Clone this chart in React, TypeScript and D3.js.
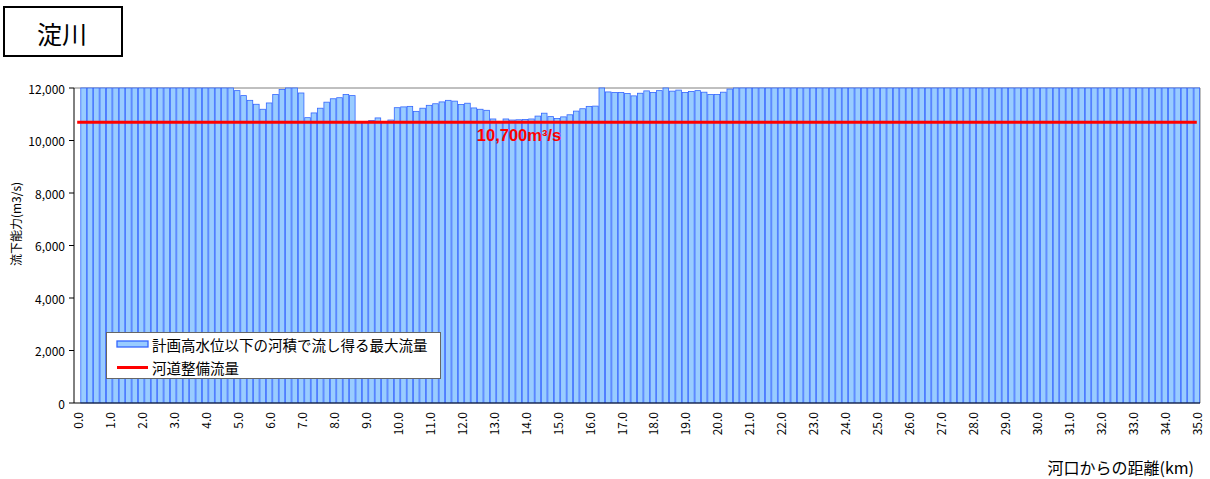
import React, { useEffect, useRef } from "react";
import * as d3 from "d3";

// distance from the river mouth (km), one bar every 0.2 km
const distances: string[] = d3.range(176).map(i => (i * 0.2).toFixed(1));

// max discharge below planned high water level (m3/s); values over 12,000 sit at the axis top
const capacity: (number | null)[] = [
	null, 12000, 12000, 12000, 12000, 12000, 12000, 12000, 12000, 12000,
	12000, 12000, 12000, 12000, 12000, 12000, 12000, 12000, 12000, 12000,
	12000, 12000, 12000, 12000, 12000, 11900, 11710, 11530, 11380, 11190,
	11430, 11750, 11940, 12000, 12000, 11810, 10870, 11050, 11230, 11460,
	11590, 11630, 11750, 11710, 10690, 10700, 10760, 10860, 10710, 10780,
	11250, 11280, 11300, 11110, 11230, 11340, 11400, 11470, 11530, 11500,
	11370, 11420, 11240, 11190, 11150, 10820, 10730, 10820, 10780, 10790,
	10800, 10820, 10930, 11040, 10910, 10840, 10900, 10980, 11120, 11210,
	11300, 11310, 12000, 11850, 11830, 11830, 11790, 11700, 11800, 11890,
	11830, 11900, 12000, 11880, 11920, 11830, 11870, 11900, 11840, 11750,
	11750, 11840, 11960, 12000, 12000, 12000, 12000, 12000, 12000, 12000,
	12000, 12000, 12000, 12000, 12000, 12000, 12000, 12000, 12000, 12000,
	12000, 12000, 12000, 12000, 12000, 12000, 12000, 12000, 12000, 12000,
	12000, 12000, 12000, 12000, 12000, 12000, 12000, 12000, 12000, 12000,
	12000, 12000, 12000, 12000, 12000, 12000, 12000, 12000, 12000, 12000,
	12000, 12000, 12000, 12000, 12000, 12000, 12000, 12000, 12000, 12000,
	12000, 12000, 12000, 12000, 12000, 12000, 12000, 12000, 12000, 12000,
	12000, 12000, 12000, 12000, 12000, 12000
];

// 河道整備流量
const plannedFlow = 10700;
const plannedLabel = "10,700m³/s";

const yTicks = [0, 2000, 4000, 6000, 8000, 10000, 12000];
const xTickLabels = ["0.0", "1.0", "2.0", "3.0", "4.0", "5.0", "6.0", "7.0", "8.0", "9.0",
	"10.0", "11.0", "12.0", "13.0", "14.0", "15.0", "16.0", "17.0", "18.0", "19.0",
	"20.0", "21.0", "22.0", "23.0", "24.0", "25.0", "26.0", "27.0", "28.0", "29.0",
	"30.0", "31.0", "32.0", "33.0", "34.0", "35.0"];

const title = "淀川";
const yTitle = "流下能力(m3/s)";
const xTitle = "河口からの距離(km)";
const legendLabels = ["計画高水位以下の河積で流し得る最大流量", "河道整備流量"];

const jp = "'Noto Sans CJK JP', 'Noto Sans', sans-serif";
const barFill = "#99CCFF";
const barStroke = "#3366FF";

export default function App() {
	const ref = useRef<SVGSVGElement>(null);

	useEffect(() => {
		const w = 1210;
		const h = 479;
		const left = 74;
		const right = 1200;
		const top = 88;
		const bottom = 403;

		// Scales
		const xScale = d3.scaleBand().domain(distances).range([left, right]).padding(0);
		const yScale = d3.scaleLinear().domain([0, 12000]).range([bottom, top]);
		const bw = xScale.bandwidth();

		const svg = d3.select(ref.current).attr("width", w).attr("height", h);
		svg.selectAll("*").remove();

		// Title box
		svg.append("rect")
			.attr("x", 4).attr("y", 7).attr("width", 118).attr("height", 49)
			.attr("fill", "none").attr("stroke", "#000").attr("stroke-width", 2);
		svg.append("text")
			.attr("x", 62).attr("y", 33)
			.attr("text-anchor", "middle").attr("dominant-baseline", "central")
			.attr("font-family", jp).attr("font-size", 25)
			.text(title);

		// Plot frame (top / right)
		svg.append("path")
			.attr("d", `M${left},${top}H${right}V${bottom}`)
			.attr("fill", "none").attr("stroke", "#808080").attr("stroke-width", 1);

		// Bars
		const data = distances.map((d, i) => ({ km: d, v: capacity[i] }));
		svg.append("g")
			.selectAll("rect")
			.data(data.filter(d => d.v !== null))
			.join("rect")
			.attr("x", d => (xScale(d.km) as number) + 0.4)
			.attr("width", bw - 0.8)
			.attr("y", d => yScale(Math.min(d.v as number, 12000)))
			.attr("height", d => bottom - yScale(Math.min(d.v as number, 12000)))
			.attr("fill", barFill)
			.attr("stroke", barStroke)
			.attr("stroke-width", 0.8);

		// Planned flow line
		const line = d3.line<string>()
			.x(d => (xScale(d) as number) + bw / 2)
			.y(() => yScale(plannedFlow));
		svg.append("path")
			.datum(distances)
			.attr("d", line)
			.attr("fill", "none")
			.attr("stroke", "#FF0000")
			.attr("stroke-width", 3);

		svg.append("text")
			.attr("x", 519).attr("y", yScale(plannedFlow) + 19)
			.attr("text-anchor", "middle")
			.attr("font-family", "'Liberation Sans', Arial, sans-serif")
			.attr("font-weight", "bold").attr("font-size", 16.5)
			.attr("fill", "#FF0000")
			.text(plannedLabel);

		// y-axis
		const yAxis = svg.append("g");
		yAxis.append("line")
			.attr("x1", left).attr("x2", left).attr("y1", top).attr("y2", bottom)
			.attr("stroke", "#000");
		yAxis.selectAll(".tick")
			.data(yTicks)
			.join("line")
			.attr("x1", left - 5).attr("x2", left)
			.attr("y1", d => yScale(d)).attr("y2", d => yScale(d))
			.attr("stroke", "#000");
		yAxis.selectAll("text")
			.data(yTicks)
			.join("text")
			.attr("x", 65).attr("y", d => yScale(d))
			.attr("text-anchor", "end").attr("dominant-baseline", "central")
			.attr("font-family", jp).attr("font-size", 12)
			.text(d => d3.format(",")(d));

		// y-axis label
		svg.append("text")
			.attr("transform", "translate(15, 224) rotate(-90)")
			.attr("text-anchor", "middle").attr("dominant-baseline", "central")
			.attr("font-family", jp).attr("font-size", 12)
			.text(yTitle);

		// x-axis
		svg.append("line")
			.attr("x1", left).attr("x2", right).attr("y1", bottom).attr("y2", bottom)
			.attr("stroke", "#000");
		svg.append("g")
			.selectAll("text")
			.data(xTickLabels)
			.join("text")
			.attr("transform", d => `translate(${(xScale(d) as number) + bw / 2}, 412) rotate(-90)`)
			.attr("text-anchor", "end").attr("dominant-baseline", "central")
			.attr("font-family", jp).attr("font-size", 12)
			.text(d => d);

		// x-axis label
		svg.append("text")
			.attr("x", 1194).attr("y", 474)
			.attr("text-anchor", "end")
			.attr("font-family", jp).attr("font-size", 16)
			.text(xTitle);

		// Legend
		const lg = svg.append("g");
		lg.append("rect")
			.attr("x", 106.5).attr("y", 332.5).attr("width", 334).attr("height", 46)
			.attr("fill", "#fff").attr("stroke", "#666").attr("stroke-width", 1);
		lg.append("rect")
			.attr("x", 117).attr("y", 341).attr("width", 31).attr("height", 6)
			.attr("fill", barFill).attr("stroke", barStroke).attr("stroke-width", 1.3);
		lg.append("line")
			.attr("x1", 117).attr("x2", 148).attr("y1", 367.5).attr("y2", 367.5)
			.attr("stroke", "#FF0000").attr("stroke-width", 3);
		lg.selectAll(".lbl")
			.data(legendLabels)
			.join("text")
			.attr("x", 152).attr("y", (d, i) => 344 + i * 23)
			.attr("dominant-baseline", "central")
			.attr("font-family", jp).attr("font-size", 14.5)
			.text(d => d);
	}, []);

	return (
		<svg ref={ref} style={{ position: "absolute", left: 0, top: 0, background: "#fff" }} />
	);
}
